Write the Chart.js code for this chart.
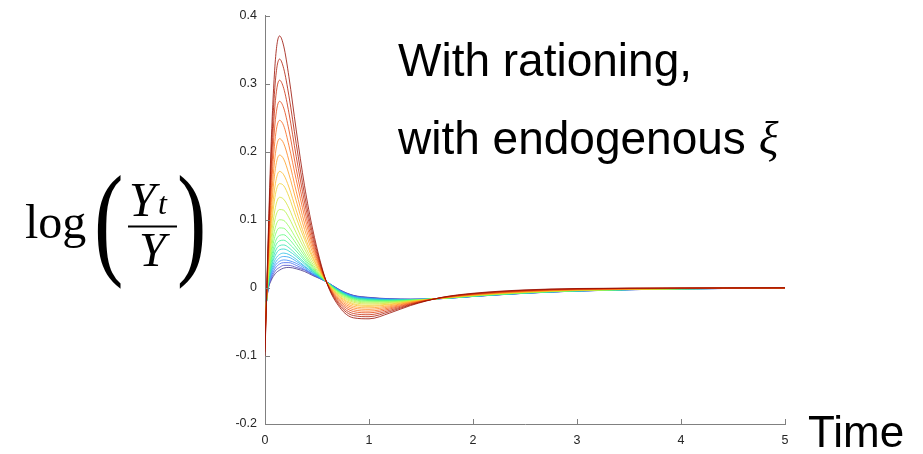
<!DOCTYPE html>
<html>
<head>
<meta charset="utf-8">
<script src="https://cdn.jsdelivr.net/npm/chart.js@4"></script>
<style>
  html, body { margin: 0; padding: 0; background: #fff; }
  #wrap { position: relative; width: 923px; height: 454px; }
  #chart { position: absolute; left: 0; top: 0; }
  #notes { position: absolute; left: 0; top: 0; pointer-events: none; }
</style>
</head>
<body>
<div id="wrap">
  <canvas id="chart" width="923" height="454"></canvas>
  <svg id="notes" width="923" height="454" xmlns="http://www.w3.org/2000/svg">
    <g font-family="'Liberation Sans', Arial, sans-serif" fill="#000">
      <text x="398" y="76" font-size="46">With rationing,</text>
      <text x="398" y="154" font-size="46">with endogenous <tspan font-family="'Liberation Serif', serif" font-style="italic">ξ</tspan></text>
      <text x="808" y="447" font-size="44">Time</text>
    </g>
    <g font-family="'Liberation Serif', 'Times New Roman', serif" fill="#000">
      <text x="25" y="238" font-size="48">log</text>
      <text transform="translate(94,262) scale(0.7,1)" font-size="126" font-weight="300">(</text>
      <text x="129" y="216" font-size="48" font-style="italic">Y</text>
      <text x="158" y="214" font-size="32" font-style="italic">t</text>
      <line x1="128" x2="177" y1="226.5" y2="226.5" stroke="#000" stroke-width="2.2"/>
      <text x="139" y="266" font-size="48" font-style="italic">Y</text>
      <text transform="translate(177,262) scale(0.7,1)" font-size="126" font-weight="300">)</text>
    </g>
  </svg>
</div>
<script>
// time grid (x) shared by every response
const times = [0, 0.03, 0.06, 0.1, 0.14, 0.18, 0.23, 0.3, 0.38, 0.46, 0.59, 0.72, 0.85, 1.0, 1.2, 1.4, 1.7, 2.0, 2.5, 3.0, 4.0, 5.0];

// responses, smallest peak (blue) to largest peak (red)
const s01 = [-0.040, -0.003, 0.011, 0.021, 0.026, 0.029, 0.030, 0.028, 0.024, 0.018, 0.009, -0.003, -0.011, -0.014, -0.016, -0.0167, -0.0158, -0.0127, -0.008, -0.0047, -0.0015, -0.0005];
const s02 = [-0.041, -0.002, 0.013, 0.025, 0.030, 0.033, 0.033, 0.030, 0.026, 0.019, 0.009, -0.0033, -0.0114, -0.0144, -0.0163, -0.0168, -0.0158, -0.0126, -0.0079, -0.0047, -0.0015, -0.0005];
const s03 = [-0.041, -0.001, 0.016, 0.029, 0.035, 0.037, 0.037, 0.033, 0.027, 0.020, 0.009, -0.0037, -0.0118, -0.0148, -0.0165, -0.0169, -0.0158, -0.0126, -0.0079, -0.0046, -0.0015, -0.0005];
const s04 = [-0.042, 0.000, 0.019, 0.033, 0.039, 0.041, 0.040, 0.036, 0.029, 0.020, 0.009, -0.004, -0.012, -0.0152, -0.0168, -0.0170, -0.0157, -0.0125, -0.0078, -0.0046, -0.0015, -0.0005];
const s05 = [-0.043, 0.001, 0.022, 0.037, 0.044, 0.046, 0.045, 0.039, 0.031, 0.0215, 0.009, -0.0044, -0.0127, -0.0156, -0.0171, -0.0172, -0.0157, -0.0125, -0.0077, -0.0045, -0.0014, -0.0005];
const s06 = [-0.044, 0.002, 0.025, 0.042, 0.049, 0.051, 0.049, 0.042, 0.032, 0.0225, 0.009, -0.0047, -0.0132, -0.0161, -0.0174, -0.0173, -0.0157, -0.0124, -0.0077, -0.0045, -0.0014, -0.0005];
const s07 = [-0.045, 0.003, 0.029, 0.048, 0.056, 0.057, 0.054, 0.046, 0.035, 0.0238, 0.009, -0.0052, -0.0138, -0.0167, -0.0178, -0.0175, -0.0156, -0.0123, -0.0076, -0.0044, -0.0014, -0.0005];
const s08 = [-0.046, 0.005, 0.032, 0.054, 0.062, 0.063, 0.059, 0.049, 0.037, 0.025, 0.009, -0.0057, -0.0144, -0.0173, -0.0182, -0.0177, -0.0156, -0.0122, -0.0075, -0.0043, -0.0014, -0.0005];
const s09 = [-0.048, 0.006, 0.037, 0.061, 0.069, 0.070, 0.065, 0.054, 0.040, 0.026, 0.009, -0.0063, -0.0152, -0.018, -0.0186, -0.0179, -0.0156, -0.0121, -0.0074, -0.0042, -0.0013, -0.0004];
const s10 = [-0.049, 0.008, 0.042, 0.068, 0.077, 0.078, 0.072, 0.059, 0.043, 0.028, 0.009, -0.0069, -0.016, -0.0187, -0.0192, -0.0181, -0.0155, -0.012, -0.0073, -0.0042, -0.0013, -0.0004];
const s11 = [-0.051, 0.010, 0.048, 0.078, 0.088, 0.0875, 0.080, 0.065, 0.047, 0.030, 0.009, -0.0077, -0.0169, -0.0197, -0.0198, -0.0184, -0.0155, -0.0119, -0.0071, -0.004, -0.0013, -0.0004];
const s12 = [-0.053, 0.013, 0.055, 0.089, 0.100, 0.099, 0.090, 0.072, 0.051, 0.032, 0.009, -0.0086, -0.0181, -0.0208, -0.0205, -0.0187, -0.0154, -0.0117, -0.0069, -0.0039, -0.0012, -0.0004];
const s13 = [-0.056, 0.016, 0.064, 0.103, 0.115, 0.114, 0.103, 0.081, 0.057, 0.035, 0.009, -0.0098, -0.0196, -0.0222, -0.0215, -0.0191, -0.0153, -0.0115, -0.0067, -0.0037, -0.0012, -0.0004];
const s14 = [-0.059, 0.020, 0.074, 0.118, 0.133, 0.130, 0.117, 0.091, 0.063, 0.039, 0.009, -0.0111, -0.0212, -0.0238, -0.0225, -0.0196, -0.0152, -0.0112, -0.0064, -0.0036, -0.0011, -0.0003];
const s15 = [-0.062, 0.024, 0.086, 0.137, 0.153, 0.150, 0.134, 0.103, 0.071, 0.043, 0.009, -0.0126, -0.0232, -0.0257, -0.0238, -0.0201, -0.0151, -0.011, -0.0061, -0.0033, -0.001, -0.0003];
const s16 = [-0.065, 0.028, 0.097, 0.153, 0.171, 0.166, 0.148, 0.114, 0.077, 0.046, 0.009, -0.0139, -0.0249, -0.0272, -0.0248, -0.0206, -0.015, -0.0107, -0.0059, -0.0031, -0.001, -0.0003];
const s17 = [-0.069, 0.033, 0.111, 0.175, 0.195, 0.189, 0.167, 0.128, 0.086, 0.051, 0.009, -0.0157, -0.0272, -0.0294, -0.0263, -0.0213, -0.0149, -0.0104, -0.0056, -0.0029, -0.0009, -0.0003];
const s18 = [-0.074, 0.038, 0.125, 0.197, 0.219, 0.212, 0.187, 0.142, 0.095, 0.056, 0.009, -0.0176, -0.0295, -0.0316, -0.0278, -0.0219, -0.0148, -0.0101, -0.0052, -0.0026, -0.0008, -0.0002];
const s19 = [-0.078, 0.044, 0.142, 0.222, 0.246, 0.238, 0.209, 0.159, 0.105, 0.061, 0.009, -0.0196, -0.0321, -0.0342, -0.0294, -0.0227, -0.0146, -0.0097, -0.0048, -0.0023, -0.0007, -0.0002];
const s20 = [-0.083, 0.050, 0.158, 0.247, 0.274, 0.264, 0.232, 0.175, 0.115, 0.066, 0.009, -0.0217, -0.0348, -0.0367, -0.0311, -0.0234, -0.0145, -0.0093, -0.0044, -0.002, -0.0006, -0.0001];
const s21 = [-0.089, 0.056, 0.176, 0.275, 0.305, 0.293, 0.257, 0.193, 0.126, 0.072, 0.009, -0.0241, -0.0377, -0.0395, -0.033, -0.0242, -0.0143, -0.0089, -0.004, -0.0017, -0.0004, -0.0001];
const s22 = [-0.094, 0.063, 0.195, 0.304, 0.336, 0.322, 0.282, 0.212, 0.137, 0.078, 0.009, -0.0264, -0.0407, -0.0424, -0.0349, -0.025, -0.0142, -0.0085, -0.0035, -0.0014, -0.0003, -0.0001];
const s23 = [-0.100, 0.070, 0.215, 0.335, 0.370, 0.355, 0.310, 0.232, 0.150, 0.085, 0.009, -0.029, -0.044, -0.0455, -0.037, -0.026, -0.014, -0.008, -0.003, -0.001, -0.0002, 0];

const series = [s01, s02, s03, s04, s05, s06, s07, s08, s09, s10, s11, s12,
                s13, s14, s15, s16, s17, s18, s19, s20, s21, s22, s23];

const xTicks = [0, 1, 2, 3, 4, 5];
const yTicks = [-0.2, -0.1, 0, 0.1, 0.2, 0.3, 0.4];

// turbo colormap (polynomial fit)
function turbo(t, a) {
    const c = v => Math.max(0, Math.min(255, Math.round(v)));
    const r = 34.61 + t * (1172.33 - t * (10793.56 - t * (33300.12 - t * (38394.49 - t * 14825.05))));
    const g = 23.31 + t * (557.33 + t * (1225.33 - t * (3574.96 - t * (1073.77 + t * 707.56))));
    const b = 27.2 + t * (3211.1 - t * (15327.97 - t * (27814 - t * (22569.18 - t * 6838.66))));
    return `rgba(${c(r)},${c(g)},${c(b)},${a})`;
}

// red first so it ends up drawn on top
const datasets = series.map((vals, i) => ({
    data: vals.map((v, j) => ({ x: times[j], y: v })),
    borderColor: turbo(0.04 + 0.92 * i / (series.length - 1), 0.8),
    borderWidth: 1,
    pointRadius: 0,
    fill: false,
    cubicInterpolationMode: 'monotone'
})).reverse();

// short inward tick marks, like the original
const inwardTicks = {
    id: 'inwardTicks',
    afterDatasetsDraw(chart) {
        const { ctx, chartArea, scales } = chart;
        ctx.save();
        ctx.strokeStyle = '#808080';
        ctx.lineWidth = 1;
        ctx.beginPath();
        xTicks.forEach(v => {
            const px = Math.round(scales.x.getPixelForValue(v)) + 0.5;
            ctx.moveTo(px, chartArea.bottom);
            ctx.lineTo(px, chartArea.bottom - 5);
        });
        yTicks.forEach(v => {
            const py = Math.round(scales.y.getPixelForValue(v)) + 0.5;
            ctx.moveTo(chartArea.left, py);
            ctx.lineTo(chartArea.left + 5, py);
        });
        ctx.stroke();
        ctx.restore();
    }
};

const tickFont = { family: "'Liberation Sans', Arial, sans-serif", size: 12.5 };

new Chart(document.getElementById('chart'), {
    type: 'line',
    data: { datasets },
    options: {
        responsive: false,
        animation: false,
        devicePixelRatio: 1,
        layout: { padding: { left: 0, right: 138, top: 14, bottom: 0 } },
        plugins: { legend: { display: false }, tooltip: { enabled: false } },
        scales: {
            x: {
                type: 'linear', min: 0, max: 5,
                afterBuildTicks: s => { s.ticks = xTicks.map(v => ({ value: v })); },
                afterFit: s => { s.height = 30; },
                grid: { display: false, tickLength: 0 },
                border: { display: true, color: '#808080', width: 1 },
                ticks: { color: '#262626', font: tickFont, padding: 9, maxRotation: 0 }
            },
            y: {
                type: 'linear', min: -0.2, max: 0.4,
                afterBuildTicks: s => { s.ticks = yTicks.map(v => ({ value: v })); },
                afterFit: s => { s.width = 265; },
                grid: { display: false, tickLength: 0 },
                border: { display: true, color: '#808080', width: 1 },
                ticks: {
                    color: '#262626', font: tickFont, padding: 8,
                    callback: v => String(parseFloat(v.toFixed(1)))
                }
            }
        }
    },
    plugins: [inwardTicks]
});
</script>
</body>
</html>
